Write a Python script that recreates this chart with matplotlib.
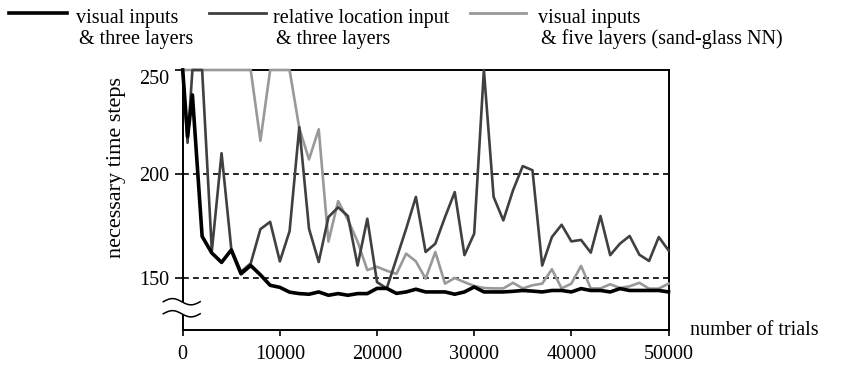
import numpy as np
import matplotlib
matplotlib.use("Agg")
import matplotlib.pyplot as plt
import matplotlib.transforms as mtransforms

plt.rcParams['font.family'] = ['Liberation Serif', 'DejaVu Serif']

# ---- data ----
trials = [0, 500, 1000] + list(range(2000, 50001, 1000))

visual_three = [250, 218, 238,
                170, 162, 157.5, 163.5, 152, 156, 151.5, 146.5, 145.5, 143.2,
                142.5, 142.2, 143.3, 141.7, 142.5, 141.7, 142.5, 142.5, 145, 145,
                142.6, 143.3, 144.6, 143.3, 143.3, 143.3, 142.2, 143.3, 145.7, 143.3,
                143.3, 143.3, 143.6, 144, 143.7, 143.3, 144, 144, 143.3, 144.9,
                144, 144, 143.3, 144.9, 144, 144, 144, 144, 143.3]

relative_three = [250, 215, 250,
                  250, 163, 210, 164, 153, 157, 173.5, 177, 158, 172.5,
                  222.5, 173.7, 157.7, 179.3, 184, 179.8, 156, 178.5, 148, 145,
                  159.3, 173.7, 189, 162.5, 166.5, 179.3, 191.3, 161, 171.3, 250,
                  189, 177.7, 192.2, 203.8, 201.8, 156, 169.7, 175.6, 167.6, 168.3,
                  162.2, 179.8, 161, 166.5, 170.2, 161.2, 158.2, 169.7, 163.3]

visual_five = [250, 250, 250,
               250, 250, 250, 250, 250, 250, 216, 250, 250, 250,
               222, 207, 221.5, 167.5, 187, 178, 167.5, 153.8, 155.4, 153.5,
               152, 161.7, 158, 149.7, 162.5, 147.3, 150, 148, 146.2, 145.2,
               145, 145, 147.7, 145, 146.5, 147.3, 154.2, 145, 147.3, 155.8,
               145, 145, 147, 145.2, 146, 147.7, 144.9, 144.9, 147.3]

x_ticks = [0, 10000, 20000, 30000, 40000, 50000]
x_tick_labels = ['0', '10000', '20000', '30000', '40000', '50000']
y_ticks = [150, 200, 250]
y_tick_labels = ['150', '200', '250']

series_labels = [('visual inputs', '& three layers'),
                 ('relative location input', '& three layers'),
                 ('visual inputs', '& five layers (sand-glass NN)')]

# ---- figure ----
W, H = 865, 367
fig = plt.figure(figsize=(W / 100, H / 100), dpi=100)
ax = fig.add_axes([182.7 / W, 1 - 330 / H, (668.5 - 182.7) / W, (330 - 70) / H])

FS = 14.5
c_black, c_dark, c_light = '#000000', '#404040', '#999999'

for yv in (150, 200):
    ax.axhline(yv, color='black', lw=1.2, ls=(0, (3.5, 2.5)), zorder=1)

ax.plot(trials, visual_five, color=c_light, lw=1.9, clip_on=False, zorder=3)
ax.plot(trials, relative_three, color=c_dark, lw=1.9, clip_on=False, zorder=4)
ax.plot(trials, visual_three, color=c_black, lw=2.6, clip_on=False, zorder=5)

ax.set_xlim(0, 50000)
ax.set_ylim(125, 250)
ax.set_xticks(x_ticks)
ax.set_xticklabels(x_tick_labels)
ax.set_yticks(y_ticks)
ax.set_yticklabels(y_tick_labels)
ax.tick_params(axis='x', direction='out', length=4, width=1.2, pad=6.5, labelsize=FS)
ax.tick_params(axis='y', direction='out', length=6, width=1.2, pad=3.5, labelsize=FS)
ax.get_yticklabels()[-1].set_va('top')
for s in ax.spines.values():
    s.set_linewidth(1.4)

fig.text(117 / W, 1 - 168 / H, 'necessary time steps', fontsize=16, rotation=90,
         ha='center', va='center')
fig.text(690 / W, 1 - 335 / H, 'number of trials', fontsize=FS, va='baseline', ha='left')

# axis break symbol
trans = mtransforms.blended_transform_factory(ax.transAxes, ax.transData)
t = np.linspace(0, 1, 60)
xs = -0.040 + t * 0.076
y1 = 138.6 + 1.5 * np.sin(2 * np.pi * t)
y2 = 132.8 + 1.5 * np.sin(2 * np.pi * t)
ax.fill_between(xs, y2, y1, color='white', transform=trans, clip_on=False, zorder=6, lw=0)
ax.plot(xs, y1, color='black', lw=1.1, transform=trans, clip_on=False, zorder=7)
ax.plot(xs, y2, color='black', lw=1.1, transform=trans, clip_on=False, zorder=7)

# legend (manual, in pixel positions)
leg = [((9, 67), 76, c_black, 2.6), ((209, 266), 273, c_dark, 2.0), ((470, 526), 538, c_light, 2.0)]
for i, ((x0, x1), tx, col, lw) in enumerate(leg):
    fig.add_artist(plt.Line2D([x0 / W, x1 / W], [1 - 12.5 / H, 1 - 12.5 / H], color=col, lw=lw,
                              transform=fig.transFigure))
    l1, l2 = series_labels[i]
    fig.text(tx / W, 1 - 23 / H, l1, fontsize=FS, va='baseline', ha='left')
    fig.text((tx + 3) / W, 1 - 44 / H, l2, fontsize=FS, va='baseline', ha='left')

fig.savefig('out.png', dpi=100)
